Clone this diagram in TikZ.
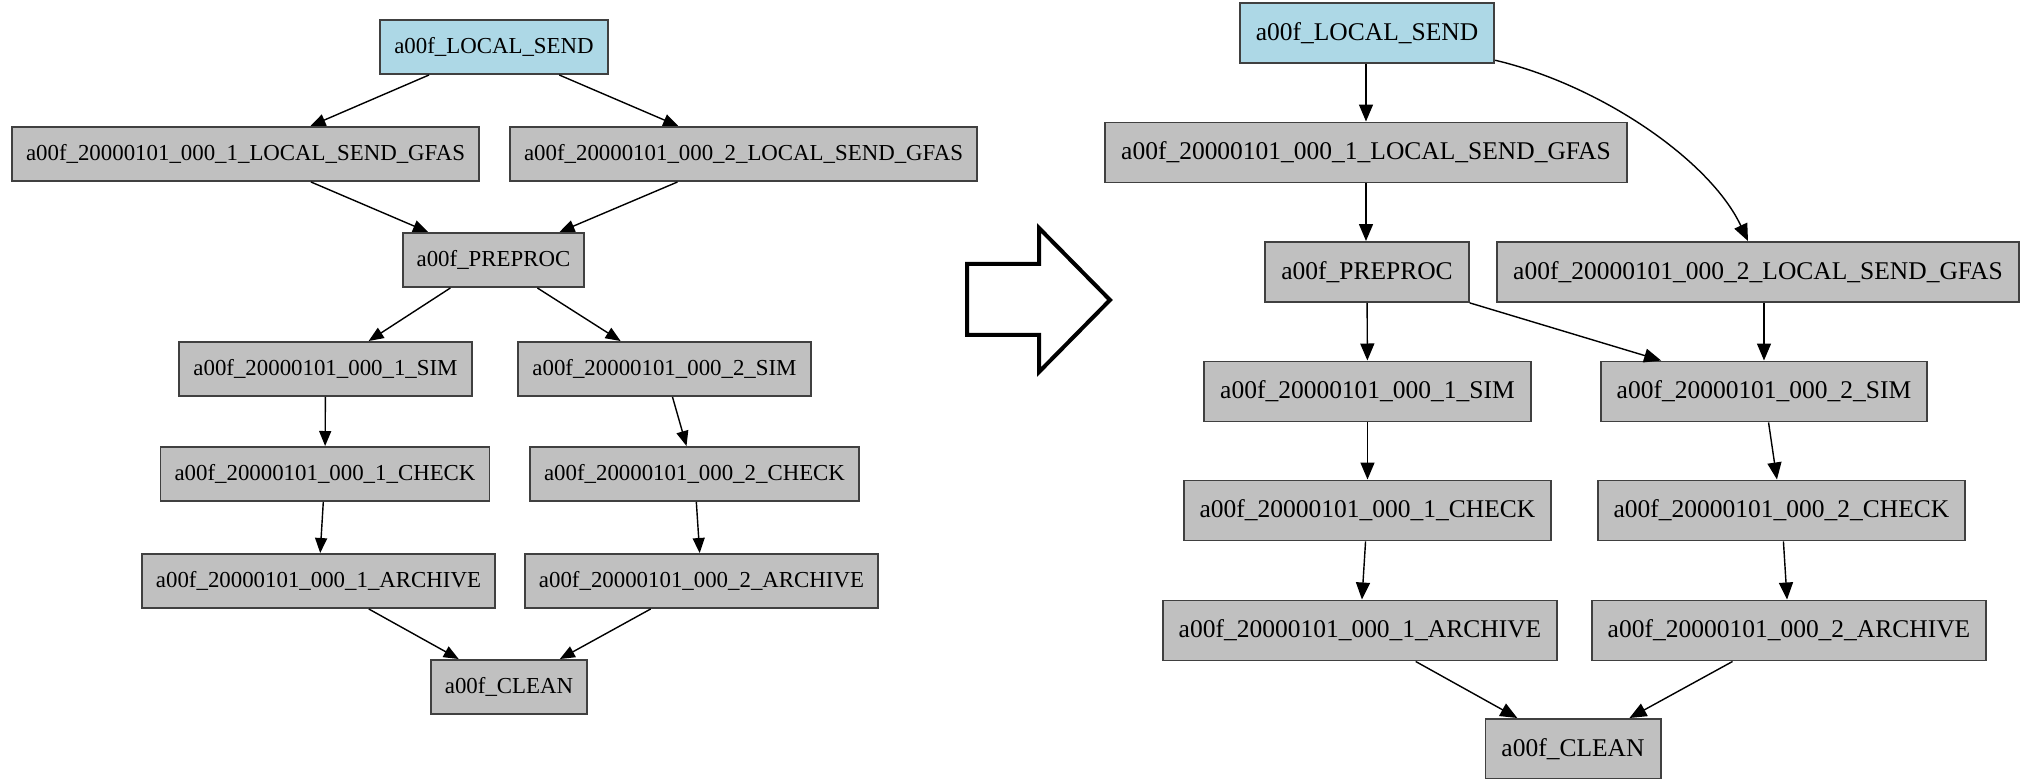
\documentclass[tikz,border=0pt]{standalone}
\usepackage{fontspec}
\setmainfont{Liberation Serif}
\usetikzlibrary{arrows.meta}

\definecolor{jobgray}{HTML}{C0C0C0}
\definecolor{jobblue}{HTML}{ADD8E6}

\begin{document}
\begin{tikzpicture}[x=0.01cm, y=-0.01cm,
task/.style={draw=black!75, line width=0.55pt, fill=jobgray, rectangle, inner ysep=0pt, align=center},
lefttask/.style={task, font=\fontsize{6.5}{7}\selectfont, minimum height=0.54cm, inner xsep=0.14cm},
righttask/.style={task, font=\fontsize{7.25}{8}\selectfont, minimum height=0.60cm, inner xsep=0.16cm},
rootjob/.style={fill=jobblue},
leftedge/.style={-{Triangle[length=0.15cm,width=0.12cm]}, line width=0.4pt},
rightedge/.style={-{Triangle[length=0.17cm,width=0.14cm]}, line width=0.4pt}]

\useasboundingbox (0,0) rectangle (2020,779);

\node (ls) [lefttask, rootjob] at (494,47) {a00f\_LOCAL\_SEND};
\node (gfas1) [lefttask] at (245.5,154) {a00f\_20000101\_000\_1\_LOCAL\_SEND\_GFAS};
\node (gfas2) [lefttask] at (743.5,154) {a00f\_20000101\_000\_2\_LOCAL\_SEND\_GFAS};
\node (pre) [lefttask] at (493.5,260) {a00f\_PREPROC};
\node (sim1) [lefttask] at (325.5,369) {a00f\_20000101\_000\_1\_SIM};
\node (sim2) [lefttask] at (664.5,369) {a00f\_20000101\_000\_2\_SIM};
\node (chk1) [lefttask] at (325,474) {a00f\_20000101\_000\_1\_CHECK};
\node (chk2) [lefttask] at (694.5,474) {a00f\_20000101\_000\_2\_CHECK};
\node (arc1) [lefttask] at (318.5,581) {a00f\_20000101\_000\_1\_ARCHIVE};
\node (arc2) [lefttask] at (701.5,581) {a00f\_20000101\_000\_2\_ARCHIVE};
\node (clean) [lefttask] at (509,687) {a00f\_CLEAN};

\draw[leftedge] (ls) -- (gfas1);
\draw[leftedge] (ls) -- (gfas2);
\draw[leftedge] (gfas1) -- (pre);
\draw[leftedge] (gfas2) -- (pre);
\draw[leftedge] (pre) -- (sim1);
\draw[leftedge] (pre) -- (sim2);
\draw[leftedge] (sim1) -- (chk1);
\draw[leftedge] (sim2) -- (chk2);
\draw[leftedge] (chk1) -- (arc1);
\draw[leftedge] (chk2) -- (arc2);
\draw[leftedge] (arc1) -- (clean);
\draw[leftedge] (arc2) -- (clean);

\draw[line width=0.04cm, line join=miter] (967,264) -- (1039,264) -- (1039,228) -- (1110,300)
  -- (1039,372) -- (1039,335) -- (967,335) -- cycle;

\node (rls) [righttask, rootjob] at (1367,33) {a00f\_LOCAL\_SEND};
\node (rgfas1) [righttask] at (1366,152.5) {a00f\_20000101\_000\_1\_LOCAL\_SEND\_GFAS};
\node (rpre) [righttask] at (1367,272) {a00f\_PREPROC};
\node (rgfas2) [righttask] at (1758,272) {a00f\_20000101\_000\_2\_LOCAL\_SEND\_GFAS};
\node (rsim1) [righttask] at (1367.5,391.5) {a00f\_20000101\_000\_1\_SIM};
\node (rsim2) [righttask] at (1764,391.5) {a00f\_20000101\_000\_2\_SIM};
\node (rchk1) [righttask] at (1367.5,510.5) {a00f\_20000101\_000\_1\_CHECK};
\node (rchk2) [righttask] at (1781.5,510.5) {a00f\_20000101\_000\_2\_CHECK};
\node (rarc1) [righttask] at (1360,630.5) {a00f\_20000101\_000\_1\_ARCHIVE};
\node (rarc2) [righttask] at (1789,630.5) {a00f\_20000101\_000\_2\_ARCHIVE};
\node (rclean) [righttask] at (1573,749) {a00f\_CLEAN};

\draw[rightedge] (rls.south -| rgfas1.north) -- (rgfas1.north);
\draw[rightedge] (rls.-12) .. controls (1600,85) and (1710,160) .. ([xshift=-0.1cm]rgfas2.north);
\draw[rightedge] (rgfas1.south) -- (rgfas1.south |- rpre.north);
\draw[rightedge] (rpre) -- (rsim1);
\draw[rightedge] (rpre) -- (rsim2);
\draw[rightedge] (rsim2.north |- rgfas2.south) -- (rsim2.north);
\draw[rightedge] (rsim1) -- (rchk1);
\draw[rightedge] (rsim2) -- (rchk2);
\draw[rightedge] (rchk1) -- (rarc1);
\draw[rightedge] (rchk2) -- (rarc2);
\draw[rightedge] (rarc1) -- (rclean);
\draw[rightedge] (rarc2) -- (rclean);

\end{tikzpicture}
\end{document}
